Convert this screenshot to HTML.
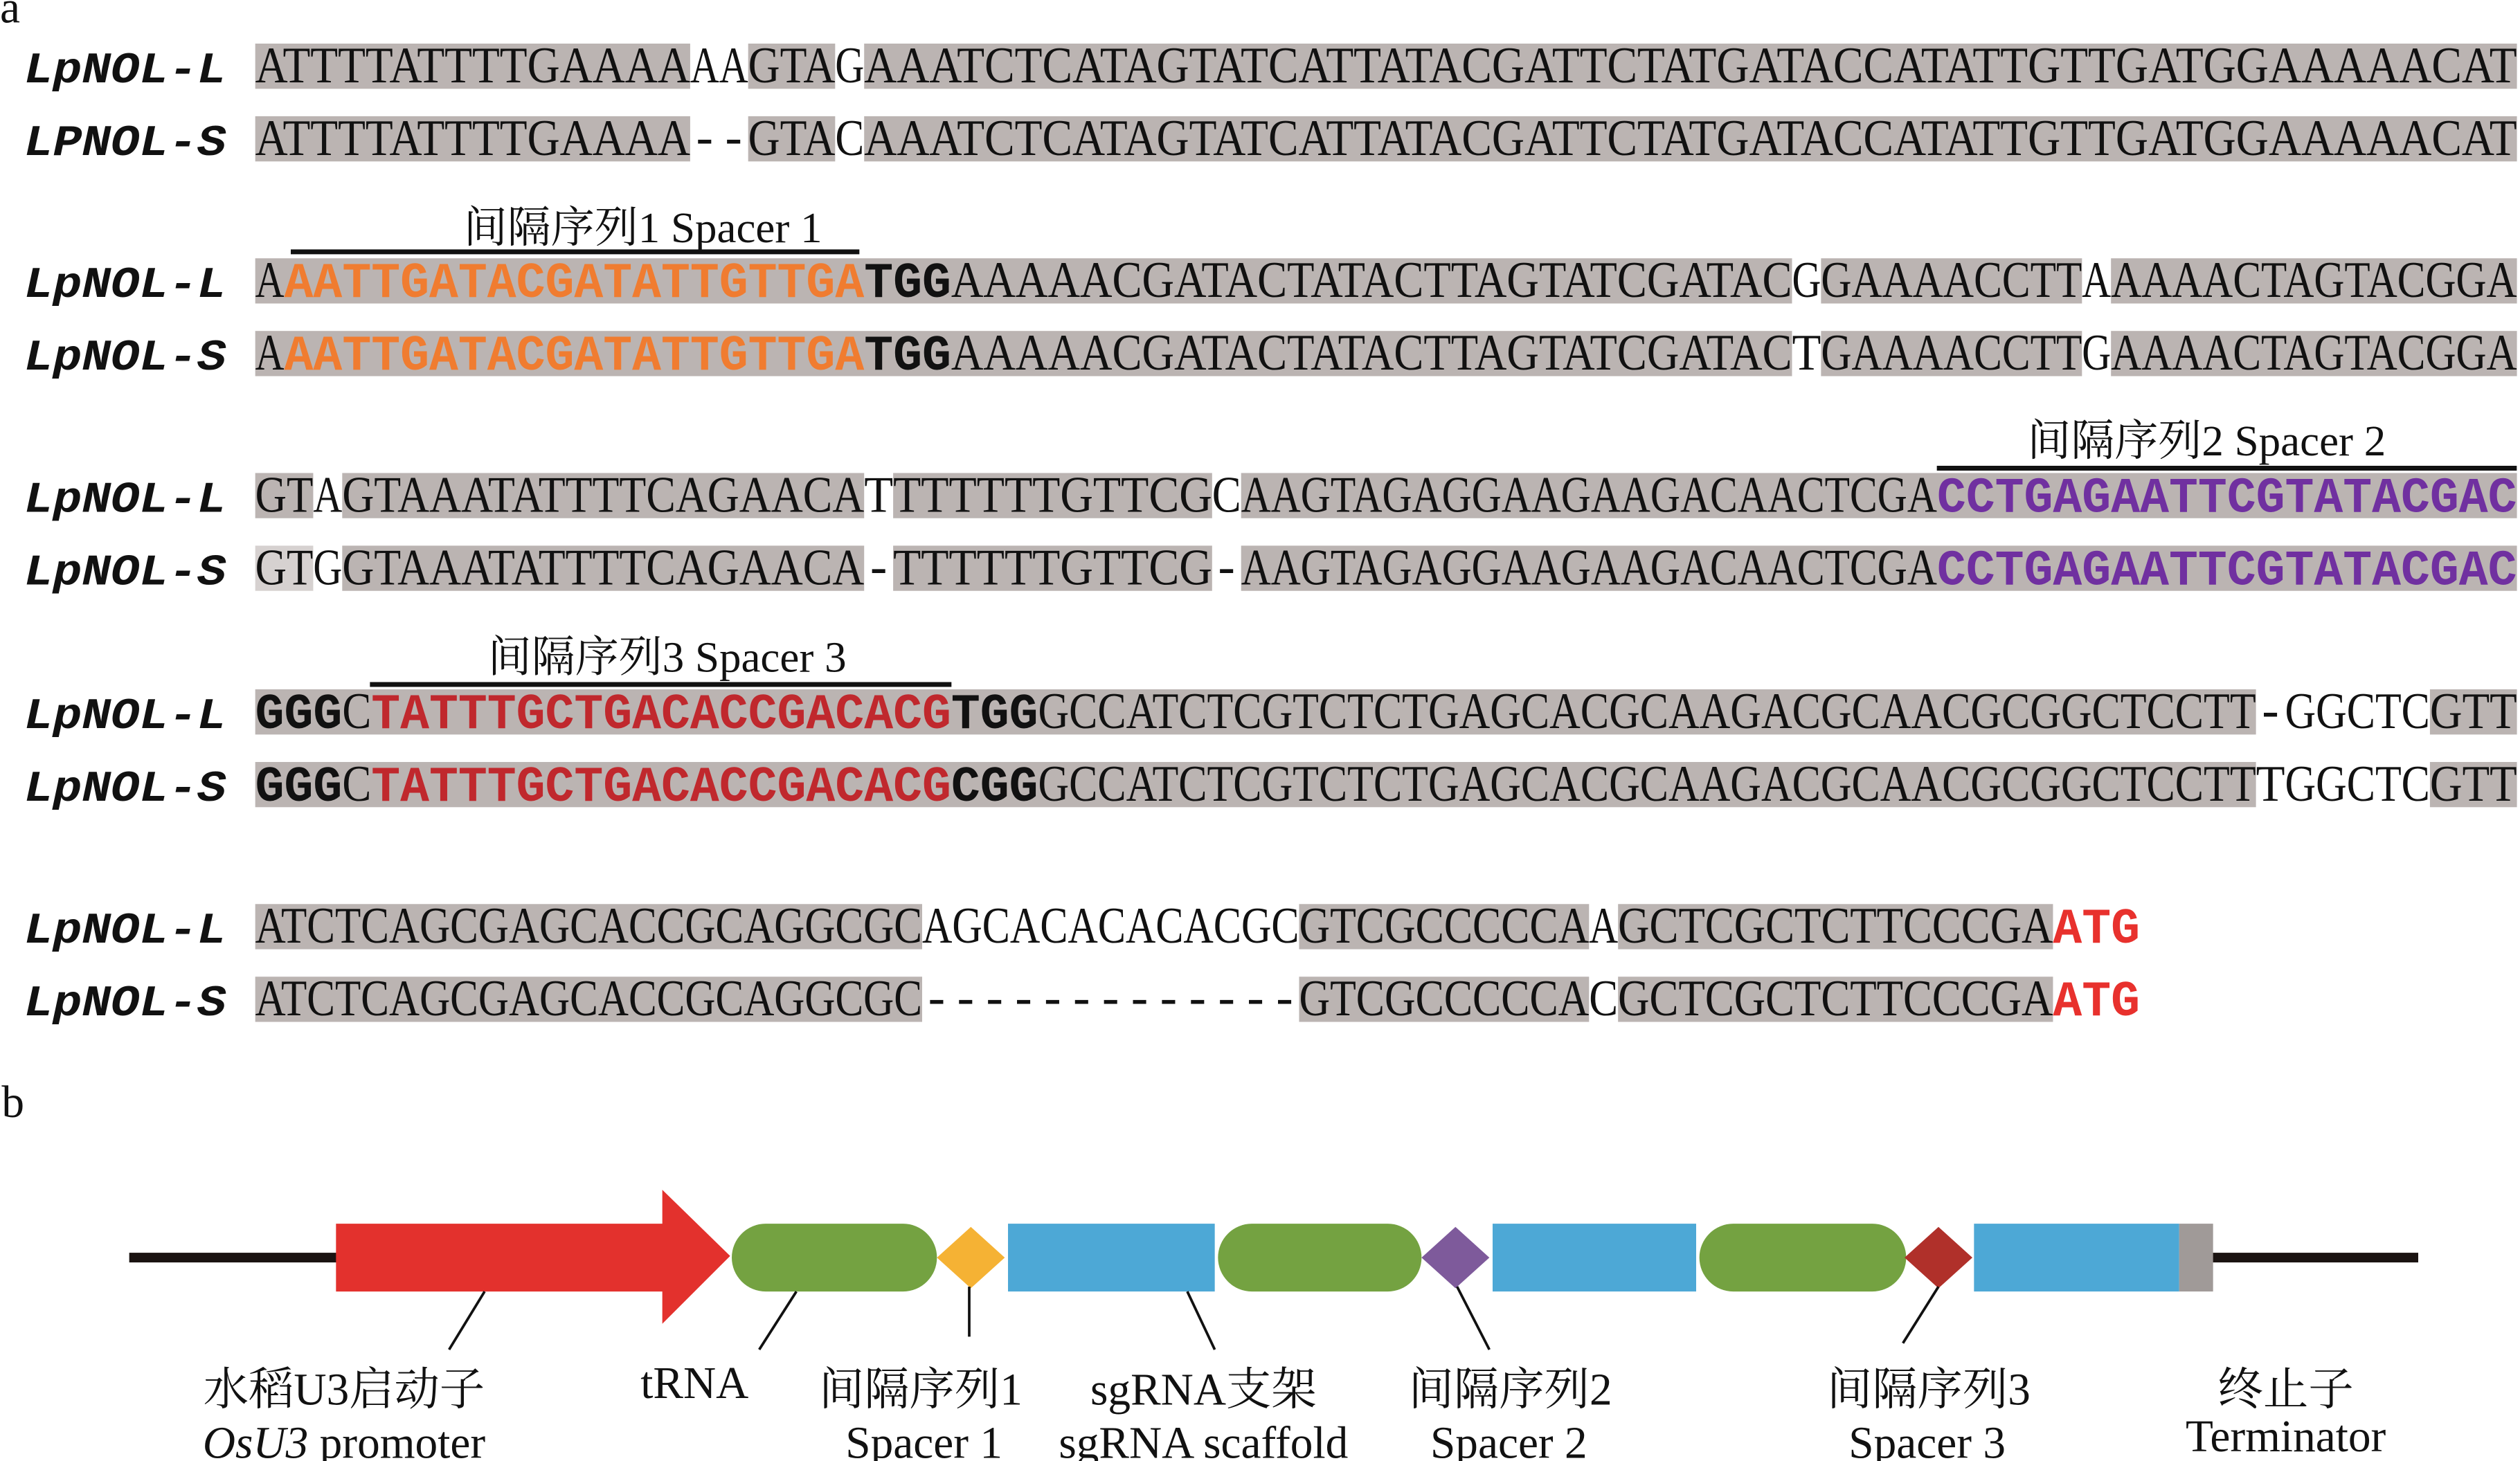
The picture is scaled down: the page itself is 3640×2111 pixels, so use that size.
<!DOCTYPE html>
<html><head><meta charset="utf-8">
<style>
html,body{margin:0;padding:0;background:#fff;}
svg{display:block;}
.seq text{font-family:"Liberation Serif",serif;font-size:32px;fill:#111;}
.seq text.b{font-family:"Liberation Mono",monospace;font-weight:bold;font-size:31px;}
.seq text.m{font-family:"Liberation Mono",monospace;font-size:31px;}
.nm{font-family:"Liberation Mono",monospace;font-size:27px;font-weight:bold;font-style:italic;fill:#111;}
.lab{font-family:"Liberation Serif","Noto Serif CJK SC",serif;font-size:27px;fill:#111;}
.lb{font-family:"Liberation Serif","Noto Serif CJK SC",serif;font-size:28px;fill:#111;}
</style></head><body>
<svg width="3640" height="2111" viewBox="0 0 1560 905" preserveAspectRatio="none" xmlns="http://www.w3.org/2000/svg">
<rect width="1560" height="905" fill="#fff"/>
<text x="0" y="14" class="lb" font-size="26">a</text>
<text x="1" y="692" class="lb" font-size="26">b</text>

<g fill="#bbb4b2">
<rect x="158" y="27" width="269.25" height="28"/><rect x="463.15" y="27" width="53.85" height="28"/><rect x="534.95" y="27" width="1023.15" height="28"/>
<rect x="158" y="72" width="269.25" height="28"/><rect x="463.15" y="72" width="53.85" height="28"/><rect x="534.95" y="72" width="1023.15" height="28"/>
<rect x="158" y="160" width="951.35" height="28"/><rect x="1127.3" y="160" width="161.55" height="28"/><rect x="1306.8" y="160" width="251.3" height="28"/>
<rect x="158" y="205" width="951.35" height="28"/><rect x="1127.3" y="205" width="161.55" height="28"/><rect x="1306.8" y="205" width="251.3" height="28"/>
<rect x="158" y="293" width="35.9" height="28"/><rect x="211.85" y="293" width="323.1" height="28"/><rect x="552.9" y="293" width="197.45" height="28"/><rect x="768.3" y="293" width="789.8" height="28"/>
<rect x="158" y="338" width="35.9" height="28" fill="#d6d1d0"/><rect x="211.85" y="338" width="323.1" height="28"/><rect x="552.9" y="338" width="197.45" height="28"/><rect x="768.3" y="338" width="789.8" height="28"/>
<rect x="158" y="427" width="1238.55" height="28"/><rect x="1504.25" y="427" width="53.85" height="28"/>
<rect x="158" y="472" width="1238.55" height="28"/><rect x="1504.25" y="472" width="53.85" height="28"/>
<rect x="158" y="560" width="412.85" height="28"/><rect x="804.2" y="560" width="179.5" height="28"/><rect x="1001.65" y="560" width="269.25" height="28"/>
<rect x="158" y="605" width="412.85" height="28"/><rect x="804.2" y="605" width="179.5" height="28"/><rect x="1001.65" y="605" width="269.25" height="28"/>
</g>

<g class="nm">
<text x="15" y="51" textLength="125" lengthAdjust="spacingAndGlyphs">LpNOL-L</text>
<text x="15" y="96" textLength="125" lengthAdjust="spacingAndGlyphs">LPNOL-S</text>
<text x="15" y="184" textLength="125" lengthAdjust="spacingAndGlyphs">LpNOL-L</text>
<text x="15" y="229" textLength="125" lengthAdjust="spacingAndGlyphs">LpNOL-S</text>
<text x="15" y="317" textLength="125" lengthAdjust="spacingAndGlyphs">LpNOL-L</text>
<text x="15" y="362" textLength="125" lengthAdjust="spacingAndGlyphs">LpNOL-S</text>
<text x="15" y="451" textLength="125" lengthAdjust="spacingAndGlyphs">LpNOL-L</text>
<text x="15" y="496" textLength="125" lengthAdjust="spacingAndGlyphs">LpNOL-S</text>
<text x="15" y="584" textLength="125" lengthAdjust="spacingAndGlyphs">LpNOL-L</text>
<text x="15" y="629" textLength="125" lengthAdjust="spacingAndGlyphs">LpNOL-S</text>
</g>

<g class="seq">
<!-- r1 -->
<text x="158" y="51" textLength="269.25" lengthAdjust="spacingAndGlyphs">ATTTTATTTTGAAAA</text>
<text x="427.25" y="51" textLength="35.9" lengthAdjust="spacingAndGlyphs">AA</text>
<text x="463.15" y="51" textLength="53.85" lengthAdjust="spacingAndGlyphs">GTA</text>
<text x="517" y="51" textLength="17.95" lengthAdjust="spacingAndGlyphs">G</text>
<text x="534.95" y="51" textLength="1023.15" lengthAdjust="spacingAndGlyphs">AAATCTCATAGTATCATTATACGATTCTATGATACCATATTGTTGATGGAAAAACAT</text>
<!-- r2 -->
<text x="158" y="96" textLength="269.25" lengthAdjust="spacingAndGlyphs">ATTTTATTTTGAAAA</text>
<text x="427.25" y="96" class="m" textLength="35.9" lengthAdjust="spacingAndGlyphs">--</text>
<text x="463.15" y="96" textLength="53.85" lengthAdjust="spacingAndGlyphs">GTA</text>
<text x="517" y="96" textLength="17.95" lengthAdjust="spacingAndGlyphs">C</text>
<text x="534.95" y="96" textLength="1023.15" lengthAdjust="spacingAndGlyphs">AAATCTCATAGTATCATTATACGATTCTATGATACCATATTGTTGATGGAAAAACAT</text>

<!-- r3 -->
<text x="158" y="184" textLength="17.95" lengthAdjust="spacingAndGlyphs">A</text>
<text x="175.95" y="184" class="b" style="fill:#f07c30" textLength="359" lengthAdjust="spacingAndGlyphs">AATTGATACGATATTGTTGA</text>
<text x="534.95" y="184" class="b" textLength="53.85" lengthAdjust="spacingAndGlyphs">TGG</text>
<text x="588.8" y="184" textLength="520.55" lengthAdjust="spacingAndGlyphs">AAAAACGATACTATACTTAGTATCGATAC</text>
<text x="1109.35" y="184" textLength="17.95" lengthAdjust="spacingAndGlyphs">G</text>
<text x="1127.3" y="184" textLength="161.55" lengthAdjust="spacingAndGlyphs">GAAAACCTT</text>
<text x="1288.85" y="184" textLength="17.95" lengthAdjust="spacingAndGlyphs">A</text>
<text x="1306.8" y="184" textLength="251.3" lengthAdjust="spacingAndGlyphs">AAAACTAGTACGGA</text>
<!-- r4 -->
<text x="158" y="229" textLength="17.95" lengthAdjust="spacingAndGlyphs">A</text>
<text x="175.95" y="229" class="b" style="fill:#f07c30" textLength="359" lengthAdjust="spacingAndGlyphs">AATTGATACGATATTGTTGA</text>
<text x="534.95" y="229" class="b" textLength="53.85" lengthAdjust="spacingAndGlyphs">TGG</text>
<text x="588.8" y="229" textLength="520.55" lengthAdjust="spacingAndGlyphs">AAAAACGATACTATACTTAGTATCGATAC</text>
<text x="1109.35" y="229" textLength="17.95" lengthAdjust="spacingAndGlyphs">T</text>
<text x="1127.3" y="229" textLength="161.55" lengthAdjust="spacingAndGlyphs">GAAAACCTT</text>
<text x="1288.85" y="229" textLength="17.95" lengthAdjust="spacingAndGlyphs">G</text>
<text x="1306.8" y="229" textLength="251.3" lengthAdjust="spacingAndGlyphs">AAAACTAGTACGGA</text>

<!-- r5 -->
<text x="158" y="317" textLength="35.9" lengthAdjust="spacingAndGlyphs">GT</text>
<text x="193.9" y="317" textLength="17.95" lengthAdjust="spacingAndGlyphs">A</text>
<text x="211.85" y="317" textLength="323.1" lengthAdjust="spacingAndGlyphs">GTAAATATTTTCAGAACA</text>
<text x="534.95" y="317" textLength="17.95" lengthAdjust="spacingAndGlyphs">T</text>
<text x="552.9" y="317" textLength="197.45" lengthAdjust="spacingAndGlyphs">TTTTTTGTTCG</text>
<text x="750.35" y="317" textLength="17.95" lengthAdjust="spacingAndGlyphs">C</text>
<text x="768.3" y="317" textLength="430.8" lengthAdjust="spacingAndGlyphs">AAGTAGAGGAAGAAGACAACTCGA</text>
<text x="1199.1" y="317" class="b" style="fill:#7030a0" textLength="359" lengthAdjust="spacingAndGlyphs">CCTGAGAATTCGTATACGAC</text>
<!-- r6 -->
<text x="158" y="362" textLength="35.9" lengthAdjust="spacingAndGlyphs">GT</text>
<text x="193.9" y="362" textLength="17.95" lengthAdjust="spacingAndGlyphs">G</text>
<text x="211.85" y="362" textLength="323.1" lengthAdjust="spacingAndGlyphs">GTAAATATTTTCAGAACA</text>
<text x="534.95" y="362" class="m" textLength="17.95" lengthAdjust="spacingAndGlyphs">-</text>
<text x="552.9" y="362" textLength="197.45" lengthAdjust="spacingAndGlyphs">TTTTTTGTTCG</text>
<text x="750.35" y="362" class="m" textLength="17.95" lengthAdjust="spacingAndGlyphs">-</text>
<text x="768.3" y="362" textLength="430.8" lengthAdjust="spacingAndGlyphs">AAGTAGAGGAAGAAGACAACTCGA</text>
<text x="1199.1" y="362" class="b" style="fill:#7030a0" textLength="359" lengthAdjust="spacingAndGlyphs">CCTGAGAATTCGTATACGAC</text>

<!-- r7 -->
<text x="158" y="451" class="b" textLength="53.85" lengthAdjust="spacingAndGlyphs">GGG</text>
<text x="211.85" y="451" textLength="17.95" lengthAdjust="spacingAndGlyphs">C</text>
<text x="229.8" y="451" class="b" style="fill:#c0282d" textLength="359" lengthAdjust="spacingAndGlyphs">TATTTGCTGACACCGACACG</text>
<text x="588.8" y="451" class="b" textLength="53.85" lengthAdjust="spacingAndGlyphs">TGG</text>
<text x="642.65" y="451" textLength="753.9" lengthAdjust="spacingAndGlyphs">GCCATCTCGTCTCTGAGCACGCAAGACGCAACGCGGCTCCTT</text>
<text x="1396.55" y="451" class="m" textLength="17.95" lengthAdjust="spacingAndGlyphs">-</text>
<text x="1414.5" y="451" textLength="89.75" lengthAdjust="spacingAndGlyphs">GGCTC</text>
<text x="1504.25" y="451" textLength="53.85" lengthAdjust="spacingAndGlyphs">GTT</text>
<!-- r8 -->
<text x="158" y="496" class="b" textLength="53.85" lengthAdjust="spacingAndGlyphs">GGG</text>
<text x="211.85" y="496" textLength="17.95" lengthAdjust="spacingAndGlyphs">C</text>
<text x="229.8" y="496" class="b" style="fill:#c0282d" textLength="359" lengthAdjust="spacingAndGlyphs">TATTTGCTGACACCGACACG</text>
<text x="588.8" y="496" class="b" textLength="53.85" lengthAdjust="spacingAndGlyphs">CGG</text>
<text x="642.65" y="496" textLength="753.9" lengthAdjust="spacingAndGlyphs">GCCATCTCGTCTCTGAGCACGCAAGACGCAACGCGGCTCCTT</text>
<text x="1396.55" y="496" textLength="17.95" lengthAdjust="spacingAndGlyphs">T</text>
<text x="1414.5" y="496" textLength="89.75" lengthAdjust="spacingAndGlyphs">GGCTC</text>
<text x="1504.25" y="496" textLength="53.85" lengthAdjust="spacingAndGlyphs">GTT</text>

<!-- r9 -->
<text x="158" y="584" textLength="412.85" lengthAdjust="spacingAndGlyphs">ATCTCAGCGAGCACCGCAGGCGC</text>
<text x="570.85" y="584" textLength="233.35" lengthAdjust="spacingAndGlyphs">AGCACACACACGC</text>
<text x="804.2" y="584" textLength="179.5" lengthAdjust="spacingAndGlyphs">GTCGCCCCCA</text>
<text x="983.7" y="584" textLength="17.95" lengthAdjust="spacingAndGlyphs">A</text>
<text x="1001.65" y="584" textLength="269.25" lengthAdjust="spacingAndGlyphs">GCTCGCTCTTCCCGA</text>
<text x="1270.9" y="584" class="b" style="fill:#e8312d" textLength="53.85" lengthAdjust="spacingAndGlyphs">ATG</text>
<!-- r10 -->
<text x="158" y="629" textLength="412.85" lengthAdjust="spacingAndGlyphs">ATCTCAGCGAGCACCGCAGGCGC</text>
<text x="570.85" y="629" class="m" textLength="233.35" lengthAdjust="spacingAndGlyphs">-------------</text>
<text x="804.2" y="629" textLength="179.5" lengthAdjust="spacingAndGlyphs">GTCGCCCCCA</text>
<text x="983.7" y="629" textLength="17.95" lengthAdjust="spacingAndGlyphs">C</text>
<text x="1001.65" y="629" textLength="269.25" lengthAdjust="spacingAndGlyphs">GCTCGCTCTTCCCGA</text>
<text x="1270.9" y="629" class="b" style="fill:#e8312d" textLength="53.85" lengthAdjust="spacingAndGlyphs">ATG</text>
</g>

<g stroke="#111" stroke-width="3">
<line x1="180" y1="156" x2="532" y2="156"/>
<line x1="1199" y1="290" x2="1558" y2="290"/>
<line x1="229" y1="424" x2="589" y2="424"/>
</g>
<text x="398" y="150" class="lab" text-anchor="middle">间隔序列1 Spacer 1</text>
<text x="1366" y="282" class="lab" text-anchor="middle">间隔序列2 Spacer 2</text>
<text x="413" y="416" class="lab" text-anchor="middle">间隔序列3 Spacer 3</text>

<rect x="80" y="776" width="130" height="6" fill="#1a1311"/>
<rect x="1366" y="776" width="131" height="6" fill="#1a1311"/>
<polygon points="208,758 410,758 410,737 452,778 410,820 410,800 208,800" fill="#e3312d"/>
<rect x="453" y="758" width="127" height="42" rx="21" ry="21" fill="#74a241"/>
<polygon points="601,760 622,779 601,798 580,779" fill="#f5b234"/>
<rect x="624" y="758" width="128" height="42" fill="#4da8d6"/>
<rect x="754" y="758" width="126" height="42" rx="21" ry="21" fill="#74a241"/>
<polygon points="901,760 922,779 901,798 880,779" fill="#7e5a9b"/>
<rect x="924" y="758" width="126" height="42" fill="#4da8d6"/>
<rect x="1052" y="758" width="128" height="42" rx="21" ry="21" fill="#74a241"/>
<polygon points="1200,760 1221,779 1200,798 1179,779" fill="#b0302a"/>
<rect x="1222" y="758" width="127" height="42" fill="#4da8d6"/>
<rect x="1349" y="758" width="21" height="42" fill="#a09a98"/>

<g stroke="#111" stroke-width="1.6">
<line x1="300" y1="800" x2="278" y2="836"/>
<line x1="493" y1="800" x2="470" y2="836"/>
<line x1="600" y1="797" x2="600" y2="828"/>
<line x1="735" y1="800" x2="752" y2="836"/>
<line x1="902" y1="797" x2="922" y2="836"/>
<line x1="1200" y1="797" x2="1178" y2="832"/>
</g>

<g class="lb" text-anchor="middle">
<text x="213" y="870">水稻U3启动子</text>
<text x="213" y="903"><tspan font-style="italic">OsU3</tspan> promoter</text>
<text x="430" y="866">tRNA</text>
<text x="570" y="870">间隔序列1</text>
<text x="572" y="903">Spacer 1</text>
<text x="745" y="870">sgRNA支架</text>
<text x="745" y="903">sgRNA scaffold</text>
<text x="935" y="870">间隔序列2</text>
<text x="934" y="903">Spacer 2</text>
<text x="1194" y="870">间隔序列3</text>
<text x="1193" y="903">Spacer 3</text>
<text x="1415" y="870">终止子</text>
<text x="1415" y="899">Terminator</text>
</g>
</svg>
</body></html>
